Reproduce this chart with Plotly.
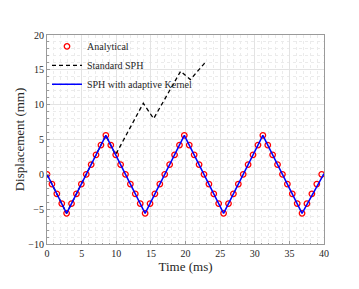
import plotly.graph_objects as go

# Analytical solution (sampled points)
t_analytical = [0.00, 0.71, 1.42, 2.13, 2.83, 3.54, 4.25, 4.96, 5.67, 6.38, 7.08, 7.79,
                8.50, 9.21, 9.92, 10.63, 11.33, 12.04, 12.75, 13.46, 14.17, 14.88, 15.58,
                16.29, 17.00, 17.71, 18.42, 19.13, 19.83, 20.54, 21.25, 21.96, 22.67,
                23.38, 24.08, 24.79, 25.50, 26.21, 26.92, 27.63, 28.33, 29.04, 29.75,
                30.46, 31.17, 31.88, 32.58, 33.29, 34.00, 34.71, 35.42, 36.13, 36.83,
                37.54, 38.25, 38.96, 39.67]
d_analytical = [0, -1.4, -2.8, -4.2, -5.6, -4.2, -2.8, -1.4, 0, 1.4, 2.8, 4.2,
                5.6, 4.2, 2.8, 1.4, 0, -1.4, -2.8, -4.2, -5.6, -4.2, -2.8,
                -1.4, 0, 1.4, 2.8, 4.2, 5.6, 4.2, 2.8, 1.4, 0,
                -1.4, -2.8, -4.2, -5.6, -4.2, -2.8, -1.4, 0, 1.4, 2.8,
                4.2, 5.6, 4.2, 2.8, 1.4, 0, -1.4, -2.8, -4.2, -5.6,
                -4.2, -2.8, -1.4, 0]

# Standard SPH
t_standard = [0, 2.83, 8.5, 9.9, 13.9, 15.4, 19.3, 20.7, 22.8]
d_standard = [0, -5.6, 5.6, 2.8, 10.2, 8.0, 14.8, 13.6, 16.0]

# SPH with adaptive kernel
t_adaptive = [0, 2.83, 8.5, 14.17, 19.83, 25.5, 31.17, 36.83, 40]
d_adaptive = [0, -5.6, 5.6, -5.6, 5.6, -5.6, 5.6, -5.6, 0.1]

x_ticks = [0, 5, 10, 15, 20, 25, 30, 35, 40]
y_ticks = [-10, -5, 0, 5, 10, 15, 20]

FONT = "Liberation Serif"
TXT = "#262626"

fig = go.Figure()
fig.add_trace(go.Scatter(
    x=t_analytical, y=d_analytical, mode="markers", name="Analytical",
    marker=dict(symbol="circle-open", size=5.5, color="#ff0000", line=dict(width=1.3, color="#ff0000")),
))
fig.add_trace(go.Scatter(
    x=t_standard, y=d_standard, mode="lines", name="Standard SPH",
    line=dict(color="black", width=1.3, dash="4px,3px"),
))
fig.add_trace(go.Scatter(
    x=t_adaptive, y=d_adaptive, mode="lines", name="SPH with adaptive Kernel",
    line=dict(color="#0000ff", width=1.5),
))

axis_common = dict(
    showline=True, mirror=True, linecolor="#9a9a9a", linewidth=1,
    ticks="inside", ticklen=3, tickcolor="#9a9a9a",
    showgrid=True, gridcolor="#e3e3e3", gridwidth=1,
    zeroline=False,
    tickfont=dict(family=FONT, size=10, color=TXT),
)

fig.update_xaxes(
    **axis_common, range=[0, 40], tickvals=x_ticks,
    minor=dict(dtick=1, showgrid=True, gridcolor="#ebebeb", griddash="dot",
               ticks="inside", ticklen=1.5, tickcolor="#9a9a9a"),
    title=dict(text="Time (ms)", font=dict(family=FONT, size=13, color=TXT), standoff=2),
)
fig.update_yaxes(
    **axis_common, range=[-10, 20], tickvals=y_ticks,
    minor=dict(dtick=1, showgrid=True, gridcolor="#ebebeb", griddash="dot",
               ticks="inside", ticklen=1.5, tickcolor="#9a9a9a"),
    title=dict(text="Displacement (mm)", font=dict(family=FONT, size=13, color=TXT), standoff=0),
)

fig.update_layout(
    width=359, height=289,
    margin=dict(l=47, r=35, t=35, b=45),
    paper_bgcolor="white", plot_bgcolor="white",
    showlegend=True,
    legend=dict(
        x=0.0, y=1.015, xanchor="left", yanchor="top",
        bgcolor="rgba(255,255,255,0)", borderwidth=0,
        font=dict(family=FONT, size=10, color=TXT),
        itemwidth=30, tracegroupgap=0,
    ),
)

fig.write_html("out.html", config={"displayModeBar": False},
               post_script="document.body.style.margin='0';")
